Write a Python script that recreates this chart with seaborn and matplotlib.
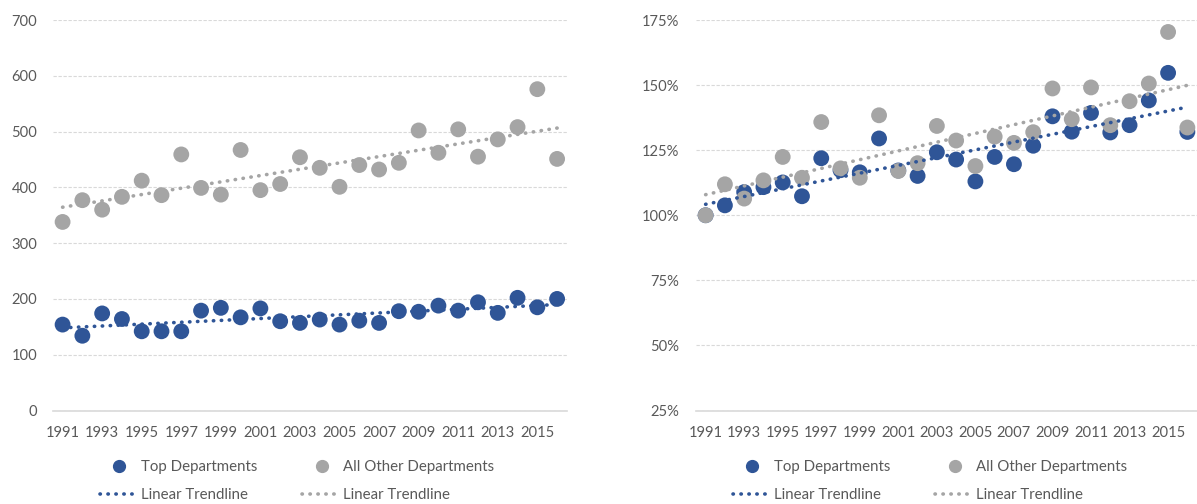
#! /usr/bin/env python3

import matplotlib
matplotlib.use('Agg')
import matplotlib.pyplot as plt
from matplotlib.lines import Line2D
from matplotlib.ticker import FuncFormatter
import seaborn as sns


years = list(range(1991, 2017))
year_ticks = list(range(1991, 2016, 2))

# left panel: counts
top_counts = [154, 134, 174, 164, 142, 142, 142, 179, 184, 167, 183, 160, 157,
              163, 154, 161, 157, 178, 177, 188, 179, 194, 175, 202, 185, 200]
other_counts = [338, 377, 360, 383, 412, 386, 459, 399, 387, 467, 395, 406, 454,
                435, 401, 440, 432, 444, 502, 462, 504, 455, 486, 508, 576, 451]

# right panel: growth relative to 1991 (percent)
top_growth = [100, 103.8, 108.9, 110.8, 112.6, 107.3, 121.9, 117.3, 116.5, 129.5,
              117.2, 115.1, 124.2, 121.4, 113.0, 122.4, 119.6, 126.7, 138.0, 132.1,
              139.3, 131.8, 134.6, 144.1, 154.7, 132.0]
other_growth = [100, 111.9, 106.4, 113.4, 122.4, 114.4, 135.8, 118.0, 114.4, 138.4,
                117.0, 120.0, 134.3, 128.7, 118.9, 130.2, 127.8, 131.9, 148.7, 136.9,
                149.1, 134.6, 143.8, 150.6, 170.4, 133.7]

labels = ['Top Departments', 'Linear Trendline',
          'All Other Departments', 'Linear Trendline']

BLUE = '#2F5597'
GRAY = '#A5A5A5'
TEXT = '#595959'
GRID = '#D9D9D9'
DOTS = (0, (0.1, 2.1))


def draw(ax, top, other, ylim, yticks, fmt, ypad):
    sns.scatterplot(x=years, y=top, color=BLUE, s=130, edgecolor='none',
                    ax=ax, zorder=3)
    sns.scatterplot(x=years, y=other, color=GRAY, s=130, edgecolor='none',
                    ax=ax, zorder=3)
    for vals, col in ((top, BLUE), (other, GRAY)):
        sns.regplot(x=years, y=vals, scatter=False, ci=None, color=col, ax=ax,
                    line_kws=dict(ls=DOTS, lw=2.6, dash_capstyle='round',
                                  zorder=4))
    ax.set_xlim(1990.5, 2016.5)
    ax.set_ylim(*ylim)
    ax.set_xticks(year_ticks)
    ax.set_yticks(yticks)
    ax.yaxis.set_major_formatter(FuncFormatter(fmt))
    ax.set_xlabel('')
    ax.set_ylabel('')
    ax.yaxis.grid(True, color=GRID, ls=(0, (3, 1.5)), lw=0.8)
    ax.xaxis.grid(False)
    ax.set_axisbelow(True)
    for side in ('top', 'right', 'left'):
        ax.spines[side].set_visible(False)
    ax.spines['bottom'].set_color(GRID)
    ax.spines['bottom'].set_linewidth(1.2)
    ax.tick_params(axis='both', length=0, labelsize=10.6, labelcolor=TEXT)
    ax.tick_params(axis='x', pad=11)
    ax.tick_params(axis='y', pad=ypad)


def legend(fig, cx):
    handles = [
        Line2D([], [], marker='o', ls='none', color=BLUE, markersize=8.5),
        Line2D([], [], color=BLUE, ls=DOTS, lw=2.6, dash_capstyle='round'),
        Line2D([], [], marker='o', ls='none', color=GRAY, markersize=8.5),
        Line2D([], [], color=GRAY, ls=DOTS, lw=2.6, dash_capstyle='round'),
    ]
    fig.legend(handles, labels, ncol=2, loc='center',
               bbox_to_anchor=(cx, 1 - 481 / 504), frameon=False,
               fontsize=10.8, labelcolor=TEXT, handlelength=2.6,
               handletextpad=0.15, columnspacing=3.0, labelspacing=0.95)


sns.set_theme(style='white')
plt.rcParams['font.family'] = ['Lato', 'DejaVu Sans']

W, H = 1197, 504
fig = plt.figure(figsize=(W / 100, H / 100), dpi=100)
ax1 = fig.add_axes([52.7 / W, 1 - 410.5 / H, (567 - 52.7) / W, (410.5 - 20) / H])
ax2 = fig.add_axes([696 / W, 1 - 410.5 / H, (1197 - 696) / W, (410.5 - 20) / H])

draw(ax1, top_counts, other_counts, (0, 700), range(0, 701, 100),
     lambda v, p: f'{v:.0f}', 11)
draw(ax2, top_growth, other_growth, (25, 175), range(25, 176, 25),
     lambda v, p: f'{v:.0f}%', 12)

legend(fig, 297 / W)
legend(fig, 930 / W)

fig.savefig('out.png', dpi=100)
